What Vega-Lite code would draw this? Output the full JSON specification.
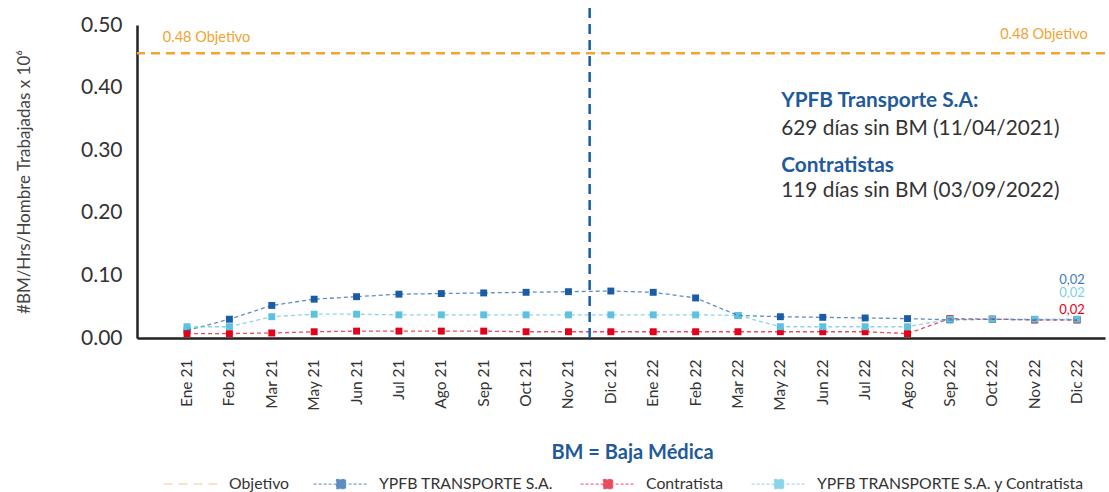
{
  "$schema": "https://vega.github.io/schema/vega-lite/v6.json",
  "width": 968,
  "height": 313,
  "autosize": {"type": "none"},
  "padding": {"left": 137, "top": 25, "right": 4, "bottom": 154},
  "background": "white",
  "config": {
    "font": "Lato",
    "view": {"stroke": null},
    "axis": {"grid": false, "ticks": false, "domainColor": "#222222", "domainWidth": 2.5}
  },
  "datasets": {
    "series": [
      {"month": "Ene 21", "serie": "YPFB TRANSPORTE S.A.", "value": 0.012},
      {"month": "Feb 21", "serie": "YPFB TRANSPORTE S.A.", "value": 0.030},
      {"month": "Mar 21", "serie": "YPFB TRANSPORTE S.A.", "value": 0.052},
      {"month": "May 21", "serie": "YPFB TRANSPORTE S.A.", "value": 0.062},
      {"month": "Jun 21", "serie": "YPFB TRANSPORTE S.A.", "value": 0.066},
      {"month": "Jul 21", "serie": "YPFB TRANSPORTE S.A.", "value": 0.070},
      {"month": "Ago 21", "serie": "YPFB TRANSPORTE S.A.", "value": 0.071},
      {"month": "Sep 21", "serie": "YPFB TRANSPORTE S.A.", "value": 0.072},
      {"month": "Oct 21", "serie": "YPFB TRANSPORTE S.A.", "value": 0.073},
      {"month": "Nov 21", "serie": "YPFB TRANSPORTE S.A.", "value": 0.074},
      {"month": "Dic 21", "serie": "YPFB TRANSPORTE S.A.", "value": 0.075},
      {"month": "Ene 22", "serie": "YPFB TRANSPORTE S.A.", "value": 0.073},
      {"month": "Feb 22", "serie": "YPFB TRANSPORTE S.A.", "value": 0.064},
      {"month": "Mar 22", "serie": "YPFB TRANSPORTE S.A.", "value": 0.036},
      {"month": "May 22", "serie": "YPFB TRANSPORTE S.A.", "value": 0.034},
      {"month": "Jun 22", "serie": "YPFB TRANSPORTE S.A.", "value": 0.033},
      {"month": "Jul 22", "serie": "YPFB TRANSPORTE S.A.", "value": 0.032},
      {"month": "Ago 22", "serie": "YPFB TRANSPORTE S.A.", "value": 0.031},
      {"month": "Sep 22", "serie": "YPFB TRANSPORTE S.A.", "value": 0.029},
      {"month": "Oct 22", "serie": "YPFB TRANSPORTE S.A.", "value": 0.030},
      {"month": "Nov 22", "serie": "YPFB TRANSPORTE S.A.", "value": 0.029},
      {"month": "Dic 22", "serie": "YPFB TRANSPORTE S.A.", "value": 0.029},
      {"month": "Ene 21", "serie": "Contratista", "value": 0.007},
      {"month": "Feb 21", "serie": "Contratista", "value": 0.007},
      {"month": "Mar 21", "serie": "Contratista", "value": 0.008},
      {"month": "May 21", "serie": "Contratista", "value": 0.010},
      {"month": "Jun 21", "serie": "Contratista", "value": 0.011},
      {"month": "Jul 21", "serie": "Contratista", "value": 0.011},
      {"month": "Ago 21", "serie": "Contratista", "value": 0.011},
      {"month": "Sep 21", "serie": "Contratista", "value": 0.011},
      {"month": "Oct 21", "serie": "Contratista", "value": 0.010},
      {"month": "Nov 21", "serie": "Contratista", "value": 0.010},
      {"month": "Dic 21", "serie": "Contratista", "value": 0.010},
      {"month": "Ene 22", "serie": "Contratista", "value": 0.010},
      {"month": "Feb 22", "serie": "Contratista", "value": 0.010},
      {"month": "Mar 22", "serie": "Contratista", "value": 0.010},
      {"month": "May 22", "serie": "Contratista", "value": 0.010},
      {"month": "Jun 22", "serie": "Contratista", "value": 0.010},
      {"month": "Jul 22", "serie": "Contratista", "value": 0.010},
      {"month": "Ago 22", "serie": "Contratista", "value": 0.007},
      {"month": "Sep 22", "serie": "Contratista", "value": 0.031},
      {"month": "Oct 22", "serie": "Contratista", "value": 0.030},
      {"month": "Nov 22", "serie": "Contratista", "value": 0.029},
      {"month": "Dic 22", "serie": "Contratista", "value": 0.029},
      {"month": "Ene 21", "serie": "YPFB TRANSPORTE S.A. y Contratista", "value": 0.018},
      {"month": "Feb 21", "serie": "YPFB TRANSPORTE S.A. y Contratista", "value": 0.018},
      {"month": "Mar 21", "serie": "YPFB TRANSPORTE S.A. y Contratista", "value": 0.034},
      {"month": "May 21", "serie": "YPFB TRANSPORTE S.A. y Contratista", "value": 0.038},
      {"month": "Jun 21", "serie": "YPFB TRANSPORTE S.A. y Contratista", "value": 0.038},
      {"month": "Jul 21", "serie": "YPFB TRANSPORTE S.A. y Contratista", "value": 0.037},
      {"month": "Ago 21", "serie": "YPFB TRANSPORTE S.A. y Contratista", "value": 0.037},
      {"month": "Sep 21", "serie": "YPFB TRANSPORTE S.A. y Contratista", "value": 0.037},
      {"month": "Oct 21", "serie": "YPFB TRANSPORTE S.A. y Contratista", "value": 0.037},
      {"month": "Nov 21", "serie": "YPFB TRANSPORTE S.A. y Contratista", "value": 0.037},
      {"month": "Dic 21", "serie": "YPFB TRANSPORTE S.A. y Contratista", "value": 0.037},
      {"month": "Ene 22", "serie": "YPFB TRANSPORTE S.A. y Contratista", "value": 0.037},
      {"month": "Feb 22", "serie": "YPFB TRANSPORTE S.A. y Contratista", "value": 0.037},
      {"month": "Mar 22", "serie": "YPFB TRANSPORTE S.A. y Contratista", "value": 0.036},
      {"month": "May 22", "serie": "YPFB TRANSPORTE S.A. y Contratista", "value": 0.018},
      {"month": "Jun 22", "serie": "YPFB TRANSPORTE S.A. y Contratista", "value": 0.018},
      {"month": "Jul 22", "serie": "YPFB TRANSPORTE S.A. y Contratista", "value": 0.018},
      {"month": "Ago 22", "serie": "YPFB TRANSPORTE S.A. y Contratista", "value": 0.018},
      {"month": "Sep 22", "serie": "YPFB TRANSPORTE S.A. y Contratista", "value": 0.030},
      {"month": "Oct 22", "serie": "YPFB TRANSPORTE S.A. y Contratista", "value": 0.030},
      {"month": "Nov 22", "serie": "YPFB TRANSPORTE S.A. y Contratista", "value": 0.030},
      {"month": "Dic 22", "serie": "YPFB TRANSPORTE S.A. y Contratista", "value": 0.030}
    ],
    "goal": [{"serie": "Objetivo", "value": 0.455, "label": "0.48 Objetivo"}]
  },
  "layer": [
    {
      "data": {"name": "series"},
      "mark": {"type": "square", "size": 48, "opacity": 1},
      "encoding": {
        "x": {
          "field": "month", "type": "nominal", "bandPosition": 0.5,
          "scale": {
            "type": "band", "paddingInner": 0, "paddingOuter": 0.42, "align": 0.81,
            "domain": ["Ene 21","Feb 21","Mar 21","May 21","Jun 21","Jul 21","Ago 21","Sep 21","Oct 21","Nov 21","Dic 21","Ene 22","Feb 22","Mar 22","May 22","Jun 22","Jul 22","Ago 22","Sep 22","Oct 22","Nov 22","Dic 22"]
          },
          "axis": {
            "title": "BM = Baja Médica", "titleFontSize": 20, "titleFontWeight": "bold", "titleColor": "#1F5A99",
            "titlePadding": 32, "titleX": 495,
            "labelAngle": -90, "labelFontSize": 15.5, "labelColor": "#333333", "labelPadding": 21
          }
        },
        "y": {
          "field": "value", "type": "quantitative",
          "scale": {"domain": [0, 0.5]},
          "axis": {
            "title": "#BM/Hrs/Hombre Trabajadas x 10⁶", "titleFontSize": 17, "titleFontWeight": "normal", "titleColor": "#444444",
            "titlePadding": 47, "values": [0, 0.1, 0.2, 0.3, 0.4, 0.5], "format": ".2f",
            "labelFontSize": 21, "labelColor": "#333333", "labelPadding": 15
          }
        },
        "color": {
          "field": "serie", "type": "nominal",
          "scale": {
            "domain": ["YPFB TRANSPORTE S.A.", "Contratista", "YPFB TRANSPORTE S.A. y Contratista"],
            "range": ["#1A5DA6", "#E3001B", "#5BC2E0"]
          },
          "legend": {
            "orient": "none", "legendX": 176, "legendY": 431, "direction": "horizontal", "columns": 3,
            "title": null, "labelFontSize": 15.8, "labelColor": "#333333", "labelFont": "Lato", "labelLimit": 400,
            "columnPadding": 25, "symbolSize": 3000, "symbolStrokeWidth": 1, "symbolDash": [3, 2], "labelOffset": 10,
            "symbolType": "M-1,0H1M-0.17,-0.17H0.17V0.17H-0.17Z", "symbolOpacity": 1
          }
        }
      }
    },
    {
      "data": {"name": "series"},
      "mark": {"type": "line", "strokeDash": [4, 3], "strokeWidth": 1.3, "opacity": 0.7},
      "encoding": {
        "x": {"field": "month", "type": "nominal", "bandPosition": 0.5},
        "y": {"field": "value", "type": "quantitative"},
        "color": {"field": "serie", "type": "nominal"}
      }
    },
    {
      "data": {"name": "goal"},
      "mark": {"type": "rule", "strokeWidth": 2.5, "color": "#F2A330"},
      "encoding": {
        "y": {"field": "value", "type": "quantitative"},
        "strokeDash": {
          "field": "serie", "type": "nominal",
          "scale": {"domain": ["Objetivo"], "range": [[9, 6]]},
          "legend": {
            "orient": "none", "legendX": 26, "legendY": 431, "title": null,
            "labelFontSize": 15.8, "labelColor": "#333333", "labelFont": "Lato", "labelOffset": 10,
            "symbolType": "stroke", "symbolSize": 3000, "symbolStrokeWidth": 1, "symbolStrokeColor": "#F2A330",
            "symbolDash": [2, 2], "symbolOpacity": 0.6
          }
        }
      }
    },
    {
      "data": {"name": "goal"},
      "mark": {"type": "text", "align": "left", "baseline": "middle", "fontSize": 14.5, "color": "#F2A330", "dx": -3},
      "encoding": {
        "x": {"datum": "Ene 21", "type": "nominal", "bandPosition": 0},
        "y": {"datum": 0.479, "type": "quantitative"},
        "text": {"field": "label"}
      }
    },
    {
      "data": {"name": "goal"},
      "mark": {"type": "text", "align": "right", "baseline": "middle", "fontSize": 14.5, "color": "#F2A330"},
      "encoding": {
        "x": {"datum": "Dic 22", "type": "nominal", "bandPosition": 0.75},
        "y": {"datum": 0.484, "type": "quantitative"},
        "text": {"field": "label"}
      }
    },
    {
      "data": {"values": [{}]},
      "mark": {"type": "rule", "color": "#1A5DA6", "strokeWidth": 2.5, "strokeDash": [10, 6]},
      "encoding": {
        "x": {"datum": "Nov 21", "type": "nominal", "bandPosition": 1},
        "y": {"datum": 0, "type": "quantitative"},
        "y2": {"datum": 0.527}
      }
    },
    {
      "data": {"values": [{"t": "YPFB Transporte S.A:"}]},
      "mark": {"type": "text", "align": "left", "baseline": "middle", "fontSize": 20.8, "fontWeight": "bold", "color": "#1F5A99"},
      "encoding": {
        "x": {"datum": "May 22", "type": "nominal", "bandPosition": 0.52},
        "y": {"datum": 0.378, "type": "quantitative"},
        "text": {"field": "t"}
      }
    },
    {
      "data": {"values": [{"t": "629 días sin BM (11/04/2021)"}]},
      "mark": {"type": "text", "align": "left", "baseline": "middle", "fontSize": 20.8, "color": "#333333"},
      "encoding": {
        "x": {"datum": "May 22", "type": "nominal", "bandPosition": 0.52},
        "y": {"datum": 0.334, "type": "quantitative"},
        "text": {"field": "t"}
      }
    },
    {
      "data": {"values": [{"t": "Contratistas"}]},
      "mark": {"type": "text", "align": "left", "baseline": "middle", "fontSize": 20.8, "fontWeight": "bold", "color": "#1F5A99"},
      "encoding": {
        "x": {"datum": "May 22", "type": "nominal", "bandPosition": 0.52},
        "y": {"datum": 0.274, "type": "quantitative"},
        "text": {"field": "t"}
      }
    },
    {
      "data": {"values": [{"t": "119 días sin BM (03/09/2022)"}]},
      "mark": {"type": "text", "align": "left", "baseline": "middle", "fontSize": 20.8, "color": "#333333"},
      "encoding": {
        "x": {"datum": "May 22", "type": "nominal", "bandPosition": 0.52},
        "y": {"datum": 0.235, "type": "quantitative"},
        "text": {"field": "t"}
      }
    },
    {
      "data": {"name": "series"},
      "transform": [{"filter": "datum.month === 'Dic 22' && datum.serie === 'YPFB TRANSPORTE S.A.'"}],
      "mark": {"type": "text", "text": "0,02", "fontSize": 13, "dy": -40, "dx": -5, "color": "#3F7CC0"},
      "encoding": {
        "x": {"field": "month", "type": "nominal", "bandPosition": 0.5},
        "y": {"field": "value", "type": "quantitative"}
      }
    },
    {
      "data": {"name": "series"},
      "transform": [{"filter": "datum.month === 'Dic 22' && datum.serie === 'YPFB TRANSPORTE S.A. y Contratista'"}],
      "mark": {"type": "text", "text": "0,02", "fontSize": 13, "dy": -26, "dx": -5, "color": "#7FD0EA"},
      "encoding": {
        "x": {"field": "month", "type": "nominal", "bandPosition": 0.5},
        "y": {"field": "value", "type": "quantitative"}
      }
    },
    {
      "data": {"name": "series"},
      "transform": [{"filter": "datum.month === 'Dic 22' && datum.serie === 'Contratista'"}],
      "mark": {"type": "text", "text": "0,02", "fontSize": 13, "dy": -10, "dx": -5, "color": "#E3001B"},
      "encoding": {
        "x": {"field": "month", "type": "nominal", "bandPosition": 0.5},
        "y": {"field": "value", "type": "quantitative"}
      }
    }
  ]
}
